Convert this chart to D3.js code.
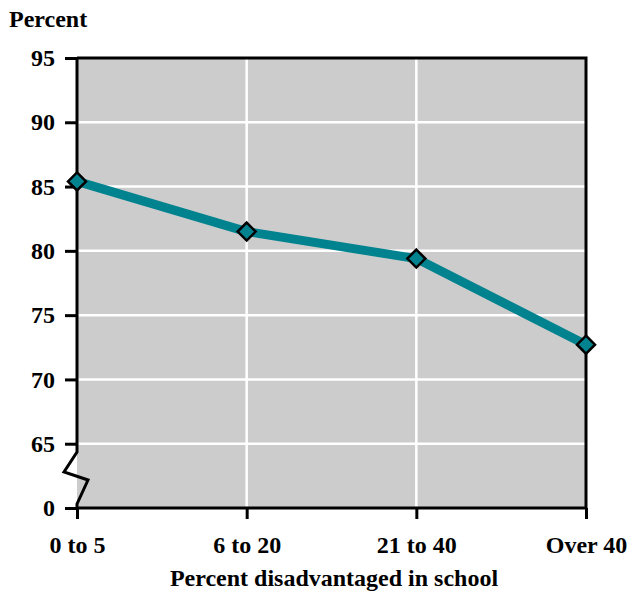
<!DOCTYPE html>
<html>
<head>
<meta charset="utf-8">
<script src="https://cdn.jsdelivr.net/npm/d3@7"></script>
<style>
  html, body { margin: 0; padding: 0; background: #fff; }
  svg text { font-family: "Liberation Serif", "Times New Roman", serif; font-weight: bold; fill: #000; }
</style>
</head>
<body>
<svg id="chart" width="635" height="593"></svg>
<script>
// Share of students, by how disadvantaged their school is
const categories = ["0 to 5", "6 to 20", "21 to 40", "Over 40"];
const values = [85.4, 81.5, 79.4, 72.7];

// Y ticks: the bottom tick sits below an axis break and reads "0"
const yTickValues = [60, 65, 70, 75, 80, 85, 90, 95];
const yTickLabels = ["0", "65", "70", "75", "80", "85", "90", "95"];

const yTitle = "Percent";
const xTitle = "Percent disadvantaged in school";

const svg = d3.select("#chart");
const plotL = 77, plotR = 586, plotT = 58, plotB = 508;
const fontSize = 24;

const x = d3.scalePoint().domain(categories).range([plotL, plotR]).padding(0);
const y = d3.scaleLinear().domain([60, 95]).range([plotB, plotT]);

const teal = "#00838f";

// Plot background
svg.append("rect")
  .attr("x", plotL).attr("y", plotT)
  .attr("width", plotR - plotL).attr("height", plotB - plotT)
  .attr("fill", "#cccccc");

// White grid lines
svg.append("g").selectAll("line")
  .data(yTickValues.filter(v => v > 60 && v < 95))
  .join("line")
  .attr("x1", plotL).attr("x2", plotR)
  .attr("y1", d => y(d)).attr("y2", d => y(d))
  .attr("stroke", "#fff").attr("stroke-width", 2.5);

svg.append("g").selectAll("line")
  .data(categories.slice(1, -1))
  .join("line")
  .attr("x1", d => x(d)).attr("x2", d => x(d))
  .attr("y1", plotT).attr("y2", plotB)
  .attr("stroke", "#fff").attr("stroke-width", 2.5);

// Frame: top, right and bottom edges
svg.append("path")
  .attr("d", `M${plotL},${plotT}H${plotR}V${plotB}H${plotL}`)
  .attr("fill", "none").attr("stroke", "#000").attr("stroke-width", 3);

// Left axis with a zigzag break between 65 and 0
const brk = d3.line()([
  [plotL, plotT], [plotL, 452], [64, 472], [88, 480], [plotL, 504], [plotL, plotB]
]);
svg.append("path")
  .attr("d", brk)
  .attr("fill", "none").attr("stroke", "#000").attr("stroke-width", 3)
  .attr("stroke-linejoin", "miter");

// Y ticks and labels
const yAxis = d3.axisLeft(y)
  .tickValues(yTickValues)
  .tickSize(12)
  .tickPadding(10)
  .tickFormat((d, i) => yTickLabels[i]);
const gy = svg.append("g").attr("transform", `translate(${plotL},0)`).call(yAxis);
gy.select(".domain").remove();
gy.selectAll(".tick line").attr("stroke", "#000").attr("stroke-width", 3);
gy.selectAll(".tick text")
  .attr("font-size", fontSize).attr("fill", "#000")
  .style("font-family", "'Liberation Serif', serif").style("font-weight", "bold");

// X ticks and labels
const xAxis = d3.axisBottom(x).tickSize(11).tickPadding(17);
const gx = svg.append("g").attr("transform", `translate(0,${plotB})`).call(xAxis);
gx.select(".domain").remove();
gx.selectAll(".tick line").attr("stroke", "#000").attr("stroke-width", 3);
gx.selectAll(".tick text")
  .attr("font-size", fontSize).attr("fill", "#000")
  .style("font-family", "'Liberation Serif', serif").style("font-weight", "bold");

// Titles
svg.append("text")
  .attr("x", 9).attr("y", 27)
  .attr("font-size", fontSize)
  .text(yTitle);

svg.append("text")
  .attr("x", 334).attr("y", 586)
  .attr("text-anchor", "middle")
  .attr("font-size", fontSize)
  .text(xTitle);

// Data line
svg.append("path")
  .datum(values)
  .attr("d", d3.line().x((d, i) => x(categories[i])).y(d => y(d)))
  .attr("fill", "none").attr("stroke", teal).attr("stroke-width", 9)
  .attr("stroke-linejoin", "round");

// Diamond markers
svg.append("g").selectAll("path")
  .data(values)
  .join("path")
  .attr("transform", (d, i) => `translate(${x(categories[i])},${y(d)})`)
  .attr("d", "M0,-9L9,0L0,9L-9,0Z")
  .attr("fill", teal).attr("stroke", "#000").attr("stroke-width", 2.5);
</script>
</body>
</html>
